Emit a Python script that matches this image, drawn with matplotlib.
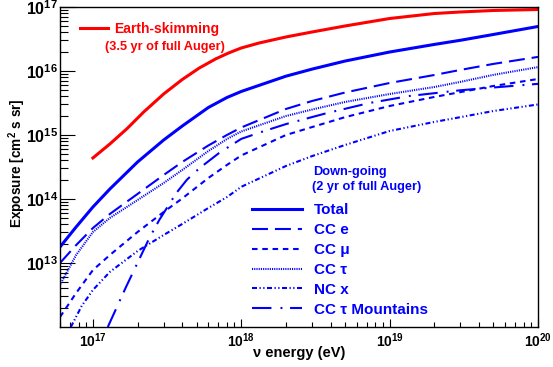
import matplotlib
matplotlib.use("Agg")
import matplotlib.pyplot as plt
from matplotlib.ticker import LogLocator, NullFormatter

plt.rcParams['font.family'] = ['Liberation Sans', 'DejaVu Sans']
plt.rcParams['font.weight'] = 'bold'
plt.rcParams['mathtext.fontset'] = 'custom'
plt.rcParams['mathtext.rm'] = 'Liberation Sans:bold'
plt.rcParams['mathtext.it'] = 'Liberation Sans:bold:italic'
plt.rcParams['mathtext.bf'] = 'Liberation Sans:bold'
plt.rcParams['mathtext.default'] = 'rm'
plt.rcParams['lines.scale_dashes'] = False

# ---------------- data ----------------
es_E = [1e17, 1.3e17, 1.7e17, 2.2e17, 3e17, 4e17, 5.2e17, 6.7e17, 8.2e17, 1e18, 1.32e18, 2e18, 3e18, 5e18,
        1e19, 2e19, 3e19, 5e19, 1e20]
es_exp = [4.38e14, 7.23e14, 1.26e15, 2.29e15, 4.38e15, 7.36e15, 1.11e16, 1.54e16, 1.91e16, 2.29e16, 2.74e16,
          3.40e16, 4.07e16, 5.05e16, 6.61e16, 7.91e16, 8.36e16, 8.82e16, 9.14e16]

grid_E = [6e16, 7.7e16, 1e17, 1.3e17, 2e17, 3e17, 4e17, 6e17, 8e17, 1e18, 2e18, 3e18, 5e18, 1e19, 2e19, 3e19, 5e19, 1e20]

tot_exp = [1.78e13, 3.65e13, 7.5e13, 1.43e14, 3.79e14, 8.36e14, 1.38e15, 2.69e15, 3.85e15, 4.79e15, 8.3e15,
           1.07e16, 1.43e16, 1.98e16, 2.6e16, 3.02e16, 3.72e16, 4.96e16]

cce_exp = [1.0e13, 1.9e13, 3.52e13, 5.83e13, 1.2e14, 2.37e14, 3.79e14, 6.86e14, 1.0e15, 1.31e15, 2.55e15,
           3.4e15, 4.61e15, 6.5e15, 8.66e15, 1.04e16, 1.29e16, 1.66e16]

ccmu_exp = [1.43e12, 3.39e12, 7.76e12, 1.33e13, 3.05e13, 6.27e13, 1.02e14, 2.13e14, 3.4e14, 4.79e14, 1.0e15,
            1.33e15, 1.9e15, 2.84e15, 3.93e15, 4.68e15, 5.83e15, 7.5e15]

cctau_exp = [4.53e12, 1.33e13, 3.05e13, 5.05e13, 9.64e13, 1.78e14, 2.84e14, 5.62e14, 8.66e14, 1.135e15, 1.98e15,
             2.5e15, 3.28e15, 4.37e15, 5.62e15, 6.76e15, 8.7e15, 1.15e16]

nc_E = [7.1e16, 8.4e16, 1e17, 1.3e17, 2e17, 3e17, 4e17, 6e17, 8e17, 1e18, 2e18, 3e18, 5e18, 1e19, 2e19, 3e19, 5e19, 1e20]
nc_exp = [1.0e12, 2.13e12, 3.79e12, 7.24e12, 1.54e13, 2.74e13, 4.07e13, 7.24e13, 1.07e14, 1.55e14, 3.28e14,
          4.68e14, 6.98e14, 1.155e15, 1.6e15, 1.9e15, 2.37e15, 3.0e15]

mtn_E = [1.26e17, 1.67e17, 2.4e17, 2.8e17, 3.64e17, 4.3e17, 5.2e17, 7.1e17, 1e18, 1.43e18, 2e18, 3.75e18,
         7.3e18, 1.36e19, 3e19, 5.5e19, 1e20]
mtn_exp = [1.0e12, 4.2e12, 2.45e13, 4.7e13, 1.23e14, 2.0e14, 3.0e14, 5.25e14, 8.7e14, 1.155e15, 1.48e15,
           2.19e15, 3.16e15, 4.07e15, 5.0e15, 5.62e15, 6.3e15]

x_ticks = [1e17, 1e18, 1e19, 1e20]
x_tick_labels = [r'$10^{17}$', r'$10^{18}$', r'$10^{19}$', r'$10^{20}$']
y_ticks = [1e13, 1e14, 1e15, 1e16, 1e17]
y_tick_labels = [r'$10^{13}$', r'$10^{14}$', r'$10^{15}$', r'$10^{16}$', r'$10^{17}$']

labels = ['Total', 'CC e', 'CC μ', 'CC τ', 'NC x', 'CC τ Mountains']

# ---------------- figure ----------------
W, H = 553, 367
fig = plt.figure(figsize=(W / 100, H / 100), dpi=100)
L, R, T, B = 60, 538, 7, 327
ax = fig.add_axes([L / W, 1 - B / H, (R - L) / W, (B - T) / H])
ax.set_xscale('log')
ax.set_yscale('log')

red = '#ff0000'
blue = '#0000ff'

ax.plot(es_E, es_exp, color=red, lw=2.2, label='Earth-skimming')
h_tot, = ax.plot(grid_E, tot_exp, color=blue, lw=2.2)
h_e, = ax.plot(grid_E, cce_exp, color=blue, lw=1.5, dashes=(11.5, 5))
h_mu, = ax.plot(grid_E, ccmu_exp, color=blue, lw=1.5, dashes=(4.0, 3.4))
h_tau, = ax.plot(grid_E, cctau_exp, color=blue, lw=1.5, dashes=(0.8, 0.8))
h_nc, = ax.plot(nc_E, nc_exp, color=blue, lw=1.5, dashes=(3.6, 1.8, 0.9, 1.8, 0.9, 1.8))
h_mtn, = ax.plot(mtn_E, mtn_exp, color=blue, lw=1.5, dashes=(14.0, 6.5, 1.4, 5.5))

ax.set_xlim(6e16, 1e20)
ax.set_ylim(1e12, 1e17)

ax.set_xticks(x_ticks)
ax.set_xticklabels(x_tick_labels)
ax.set_yticks(y_ticks)
ax.set_yticklabels(y_tick_labels)
ax.xaxis.set_minor_locator(LogLocator(base=10, subs=range(2, 10), numticks=20))
ax.yaxis.set_minor_locator(LogLocator(base=10, subs=range(2, 10), numticks=20))
ax.xaxis.set_minor_formatter(NullFormatter())
ax.yaxis.set_minor_formatter(NullFormatter())

ax.tick_params(axis='x', which='major', direction='in', length=5.8, width=0.8, labelsize=10, pad=3)
ax.tick_params(axis='x', which='minor', direction='in', length=3.4, width=0.8)
ax.tick_params(axis='y', which='major', direction='in', length=10.5, width=0.8, labelsize=11.5, pad=1.5)
ax.tick_params(axis='y', which='minor', direction='in', length=5.5, width=0.8)
ax.tick_params(top=False, right=False, which='both')
for s in ax.spines.values():
    s.set_linewidth(1.0)

ax.set_xlabel('ν energy (eV)', fontsize=10.5, fontweight='bold')
ax.xaxis.label.set_va('center')
ax.xaxis.set_label_coords(0.5, -(353 - B) / (B - T))
ax.set_ylabel('Exposure [cm$^2$ s sr]', fontsize=9.8, fontweight='bold')
ax.yaxis.label.set_va('center')
ax.yaxis.set_label_coords(-(L - 17) / (R - L), (B - 163) / (B - T))

# Earth-skimming legend
leg1 = ax.legend(loc='center left', bbox_to_anchor=(80 / W, 1 - 29 / H), bbox_transform=fig.transFigure,
                 frameon=False, handlelength=2.0, handletextpad=0.45, borderpad=0,
                 borderaxespad=0, labelcolor=red, prop={'weight': 'bold', 'size': 10})
ax.add_artist(leg1)
fig.text(105 / W, 1 - 47 / H, '(3.5 yr of full Auger)', color=red, fontsize=9.2, fontweight='bold',
         ha='left', va='center')

fig.text(313 / W, 1 - 172 / H, 'Down-going', color=blue, fontsize=9.2, fontweight='bold', ha='left', va='center')
fig.text(312 / W, 1 - 187 / H, '(2 yr of full Auger)', color=blue, fontsize=9.2, fontweight='bold',
         ha='left', va='center')

leg2 = ax.legend([h_tot, h_e, h_mu, h_tau, h_nc, h_mtn], labels, loc='upper left',
                 bbox_to_anchor=(252 / W, 1 - 203 / H), bbox_transform=fig.transFigure,
                 frameon=False, prop={'weight': 'bold', 'size': 11}, labelcolor=blue,
                 handlelength=3.27, handletextpad=0.78, borderpad=0, borderaxespad=0, labelspacing=0.39)

fig.savefig('out.png', dpi=100)
